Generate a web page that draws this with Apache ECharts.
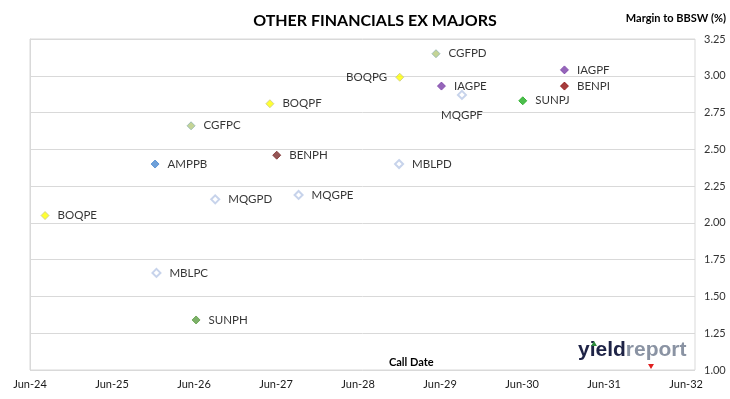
<!DOCTYPE html>
<html>
<head>
<meta charset="utf-8">
<script src="https://cdn.jsdelivr.net/npm/echarts@6/dist/echarts.min.js"></script>
<style>
  html, body { margin: 0; padding: 0; background: #fff; }
  #chart { width: 730px; height: 399px; }
</style>
</head>
<body>
<div id="chart"></div>
<script>
// hybrid securities: call date vs margin to BBSW
var names = ['BOQPE', 'AMPPB', 'MBLPC', 'CGFPC', 'SUNPH', 'MQGPD', 'BOQPF', 'BENPH', 'MQGPE',
  'MBLPD', 'BOQPG', 'CGFPD', 'IAGPE', 'MQGPF', 'SUNPJ', 'IAGPF', 'BENPI'];
var callDates = ['2024-08-07', '2025-12-10', '2025-12-16', '2026-05-18', '2026-06-10', '2026-09-04',
  '2027-05-04', '2027-06-04', '2027-09-10', '2028-12-01', '2028-12-04', '2029-05-13', '2029-06-07',
  '2029-09-07', '2030-06-04', '2030-12-07', '2030-12-07'];
var margins = [2.05, 2.40, 1.66, 2.66, 1.34, 2.16, 2.81, 2.46, 2.19,
  2.40, 2.99, 3.15, 2.93, 2.87, 2.83, 3.04, 2.93];
var yTicks = [1.00, 1.25, 1.50, 1.75, 2.00, 2.25, 2.50, 2.75, 3.00, 3.25];

// colours per issuer / line
var styles = {
  BOQPE: { color: '#ffff00', borderColor: '#c9c98a' },
  BOQPF: { color: '#ffff00', borderColor: '#c9c98a' },
  BOQPG: { color: '#ffff00', borderColor: '#c9c98a' },
  AMPPB: { color: '#4a88d0' },
  CGFPC: { color: '#b5c97a', borderColor: '#8fb3b0' },
  CGFPD: { color: '#b5c97a', borderColor: '#8fb3b0' },
  BENPH: { color: '#7a2b2b' },
  BENPI: { color: '#8e0b0b' },
  SUNPH: { color: '#5d9e43' },
  SUNPJ: { color: '#1fac1f' },
  IAGPE: { color: '#7b3fa8' },
  IAGPF: { color: '#7b3fa8' },
  MQGPD: { color: '#ffffff', borderColor: '#b9c8e6', borderWidth: 2 },
  MQGPE: { color: '#ffffff', borderColor: '#b9c8e6', borderWidth: 2 },
  MQGPF: { color: '#ffffff', borderColor: '#b9c8e6', borderWidth: 2 },
  MBLPC: { color: '#ffffff', borderColor: '#b9c8e6', borderWidth: 2 },
  MBLPD: { color: '#ffffff', borderColor: '#b9c8e6', borderWidth: 2 }
};
var labelPos = { BOQPG: 'left', MQGPF: 'bottom' };

// months since Jun-24
function toMonths(s) {
  var p = s.split('-');
  return (+p[0] - 2024) * 12 + (+p[1] - 6) + (+p[2] - 1) / 30;
}

var points = names.map(function (n, i) {
  var st = styles[n];
  var pos = labelPos[n] || 'right';
  return {
    name: n,
    value: [toMonths(callDates[i]), margins[i]],
    itemStyle: {
      color: st.color,
      borderColor: st.borderColor || st.color,
      borderWidth: st.borderWidth || 1
    },
    label: { position: pos, distance: pos == 'bottom' ? 9 : 8 }
  };
});

var chart = echarts.init(document.getElementById('chart'));
chart.setOption({
  animation: false,
  textStyle: { fontFamily: 'Lato' },
  title: {
    text: 'OTHER FINANCIALS EX MAJORS',
    left: 370,
    textAlign: 'center',
    top: 8,
    textStyle: { fontSize: 16, fontWeight: 'bold', color: '#000', fontFamily: 'Lato' }
  },
  grid: {
    left: 30, right: 35, top: 39, bottom: 29,
    show: true, borderColor: '#d9d9d9', borderWidth: 1
  },
  xAxis: {
    type: 'value',
    min: 0,
    max: 97.3,
    interval: 12,
    axisLine: { show: false },
    axisTick: { show: false },
    splitLine: { show: false },
    axisLabel: {
      color: '#1a1a1a', fontSize: 11, margin: 9, showMaxLabel: false,
      formatter: function (v) {
        if (v % 12 !== 0) return '';
        return 'Jun-' + (24 + v / 12);
      }
    }
  },
  yAxis: {
    type: 'value',
    position: 'right',
    min: yTicks[0],
    max: yTicks[yTicks.length - 1],
    interval: 0.25,
    axisLine: { show: true, lineStyle: { color: '#d9d9d9' } },
    axisTick: { show: true, length: 5, lineStyle: { color: '#d9d9d9' } },
    splitLine: { lineStyle: { color: '#d9d9d9' } },
    axisLabel: {
      color: '#333', fontSize: 11, margin: 9,
      formatter: function (v) { return v.toFixed(2); }
    }
  },
  series: [{
    type: 'scatter',
    symbol: 'diamond',
    symbolSize: 8,
    data: points,
    label: {
      show: true,
      formatter: '{b}',
      color: '#000',
      fontSize: 11.5,
      fontFamily: 'Lato'
    }
  }],
  graphic: [
    {
      type: 'text', right: 4, top: 13,
      style: { text: 'Margin to BBSW (%)', fontSize: 11, fontWeight: 'bold', fill: '#000', fontFamily: 'Lato' }
    },
    {
      type: 'text', left: 389, top: 357,
      style: { text: 'Call Date', fontSize: 11, fontWeight: 'bold', fill: '#000', fontFamily: 'Lato' }
    },
    {
      type: 'text', left: 578, top: 340,
      style: {
        text: '{a|yield}{b|report}',
        rich: {
          a: { fontSize: 21, fontWeight: 'bold', fill: '#1e2346', fontFamily: 'Liberation Sans' },
          b: { fontSize: 21, fontWeight: 'bold', fill: '#8a93a3', fontFamily: 'Liberation Sans' }
        }
      }
    },
    {
      type: 'polygon',
      shape: { points: [[591, 346], [597, 346], [594, 341]] },
      style: { fill: '#2e8b3e' }
    },
    {
      type: 'polygon',
      shape: { points: [[648, 364], [654, 364], [651, 369]] },
      style: { fill: '#e02020' }
    }
  ]
});
</script>
</body>
</html>
